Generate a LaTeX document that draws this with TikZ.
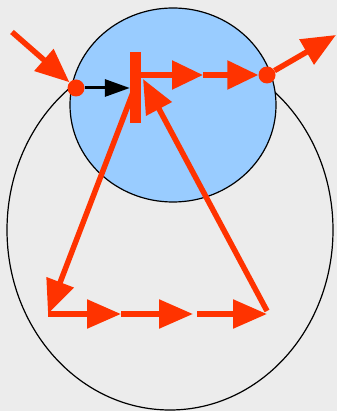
\documentclass[tikz,border=0pt]{standalone}
\usetikzlibrary{arrows.meta}
\definecolor{redo}{HTML}{FF3300}
\definecolor{bluec}{HTML}{99CCFF}
\definecolor{bgc}{HTML}{ECECEC}
\begin{document}
\begin{tikzpicture}[x=1pt,y=-1pt,
  flow/.style={draw=redo, line width=5.5pt, -{Triangle[length=34pt,width=28pt]}},
  flowshort/.style={flow, -{Triangle[length=31pt,width=28pt]}},
  dot/.style={circle, fill=redo, minimum size=17pt, inner sep=0pt},
  barstyle/.style={fill=redo, minimum width=11pt, minimum height=71pt, inner sep=0pt}]
\fill[bgc] (0,0) rectangle (337,411);
\useasboundingbox (0,0) rectangle (337,411);
% outer ellipse and blue circle
\draw[line width=1.2pt] (170,230) ellipse [x radius=163pt, y radius=180pt];
\draw[line width=1.2pt, fill=bluec] (173,105) ellipse [x radius=103pt, y radius=97pt];
% coordinates
\coordinate (in) at (12,32);
\coordinate (out) at (336,35);
\coordinate (tl) at (137,82);
\coordinate (tr) at (143,79);
\coordinate (bl) at (48,314);
\coordinate (br) at (267,314);
\coordinate (m1) at (121,314);
\coordinate (m2) at (193,314);
\coordinate (m2b) at (197,314);
\coordinate (mt) at (203,75);
% nodes
\node[barstyle] (bar) at (135.5,87.5) {};
\node[dot] (d1) at (76,88) {};
\node[dot] (d2) at (267,75) {};
% connectors
\draw[flow] (in) -- (d1);
\draw[flow] (d2) -- (out);
\draw[black, line width=3pt, -{Triangle[length=25pt,width=17pt]}] (d1) -- (bar.west |- d1);
\draw[flowshort] (bar.east |- mt) -- (mt);
\draw[flowshort] (mt) -- (d2);
\draw[flow] (tl) -- (bl);
\draw[flow] ([yshift=3pt]br) -- (tr);
\draw[flow] (bl) -- (m1);
\draw[flow] (m1) -- (m2);
\draw[flow] (m2b) -- (br);
\end{tikzpicture}
\end{document}
